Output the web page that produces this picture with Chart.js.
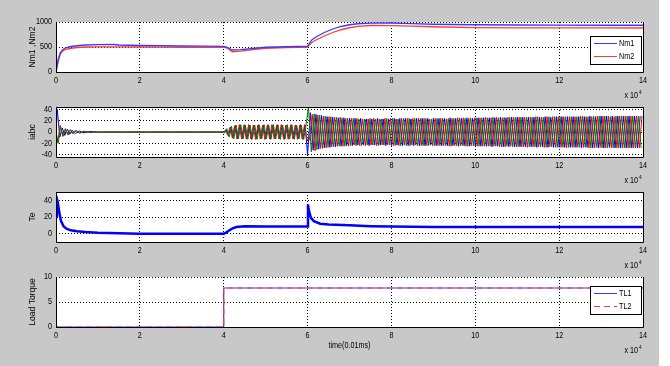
<!DOCTYPE html>
<html><head><meta charset="utf-8">
<script src="https://cdn.jsdelivr.net/npm/chart.js@4.4.1/dist/chart.umd.min.js"></script>
<style>
html,body{margin:0;padding:0;background:#fff;width:670px;height:366px;overflow:hidden;}
#fig{position:absolute;left:0;top:0;width:659px;height:366px;background:#c8c8c8;}
.pane{position:absolute;left:0;width:670px;height:90px;}
</style></head><body>
<div id="fig"></div>
<div class="pane" style="top:16px"><canvas id="c1"></canvas></div>
<div class="pane" style="top:101px"><canvas id="c2"></canvas></div>
<div class="pane" style="top:186px"><canvas id="c3"></canvas></div>
<div class="pane" style="top:271px"><canvas id="c4"></canvas></div>
<script>
// ---------- shared x axis ----------
const xTicks = [0, 2, 4, 6, 8, 10, 12, 14];

// ---------- panel 1: speeds ----------
const nmT = [0,0.05,0.1,0.15,0.2,0.3,0.4,0.5,0.7,1.0,1.4,1.5,2.0,2.5,3.0,3.5,4.0,4.1,4.2,4.4,4.7,5.0,5.5,6.0,6.02,6.1,6.2,6.4,6.6,6.8,7.0,7.2,7.5,8.0,8.5,9.0,10,11,12,13,14];
const nm1 = [0,250,380,440,470,500,515,525,540,548,550,540,530,525,520,517,512,490,440,448,470,495,505,515,545,640,700,790,860,910,945,965,978,980,968,955,945,940,938,935,935];
const nm2 = [0,200,350,410,440,465,480,490,500,502,503,502,500,497,495,495,495,470,405,418,448,475,490,500,525,590,640,720,790,845,885,912,930,928,918,905,888,883,882,881,880];
const nmTicks = [0, 500, 1000];

// ---------- panel 2: phase currents ----------
const iaT0 = [0,0.03,0.09,0.15,0.21,0.27,0.33,0.39,0.46,0.55,0.65,0.8,1.0,4.0];
const ia0  = [0,40,-9,7,-6,5,-4,3,-3,2,-1.5,1,0,0];
const ibT0 = [0,0.05,0.11,0.17,0.23,0.29,0.35,0.41,0.48,0.57,0.67,0.82,1.0,4.0];
const ib0  = [0,-20,9,-7,5,-5,4,-3,2,-2,1,-0.5,0,0];
const icT0 = [0,0.04,0.1,0.16,0.22,0.28,0.34,0.4,0.47,0.56,0.66,0.81,1.0,4.0];
const ic0  = [0,-18,12,-8,6,-5,4,-3,3,-2,1.5,-1,0,0];
// successive peaks, 4..6
const ia46 = [0,4,-7,9,-11,12,-12,12,-12,13,-12,12,-13,12,-12,13,-12,12,-12,13,-13,12,-12,13,-12,12,-13,12,-12,13,-12,12,-12,13,-13,12];
const ib46 = [-2,6,-9,10,-12,12,-12,13,-12,12,-13,12,-12,12,-13,12,-12,13,-12,12,-12,13,-12,12,-13,12,-12,13,-12,12,-13,12,-12,12,-13,12];
const ic46 = [2,-5,8,-10,11,-12,13,-12,12,-12,13,-12,12,-13,12,-12,12,-13,12,-12,13,-12,12,-12,13,-12,12,-13,12,-12,12,-13,12,-12,13,-12];
// successive peaks, 6..14
const ia614 = [-40,34,-32,31,-30,29,-28,27,-27,26, -26,25,-25,25,-24,24,-24,24,-23,24, -23,23,-24,23,-23,24,-23,23,-24,23,
  -24,24,-23,24,-24,24,-24,23,-24,24, -24,24,-24,24,-23,24,-24,24,-24,24, -24,25,-24,24,-25,24,-24,25,-25,24,
  -25,25,-25,25,-25,25,-26,25,-25,26, -26,25,-26,26,-26,26,-26,26,-26,26, -26,26,-27,26,-26,27,-27,26,-27,27,
  -27,27,-27,27,-27,27,-27,27,-28,27, -27,28,-28,27,-28,28,-28,28,-27,28, -28,28,-28,28,-28,28,-28,28,-28,28];
const ib614 = [44,-35,32,-31,30,-29,28,-27,27,-26, 26,-25,25,-25,24,-24,24,-24,23,-24, 23,-23,24,-23,23,-24,23,-23,24,-23,
  24,-24,23,-24,24,-24,24,-23,24,-24, 24,-24,24,-24,23,-24,24,-24,24,-24, 24,-25,24,-24,25,-24,24,-25,25,-24,
  25,-25,25,-25,25,-25,26,-25,25,-26, 26,-25,26,-26,26,-26,26,-26,26,-26, 26,-26,27,-26,26,-27,27,-26,27,-27,
  27,-27,27,-27,27,-27,27,-27,28,-27, 27,-28,28,-27,28,-28,28,-28,27,-28, 28,-28,28,-28,28,-28,28,-28,28,-28];
const ic614 = [-14,31,-33,30,-29,28,-28,27,-26,26, -25,26,-25,24,-25,24,-23,24,-24,23, -24,23,-23,24,-24,23,-23,24,-23,24,
  -24,23,-24,24,-23,24,-24,24,-23,24, -24,24,-24,23,-24,24,-24,24,-24,23, -25,24,-24,25,-24,25,-25,24,-24,25,
  -25,25,-25,26,-25,25,-25,26,-26,25, -26,26,-25,26,-26,26,-26,26,-27,26, -26,27,-26,26,-27,27,-26,27,-27,27,
  -27,27,-28,27,-27,27,-27,28,-27,27, -28,27,-28,28,-27,28,-28,28,-28,27, -28,28,-28,28,-28,28,-28,28,-28,28];
const iTicks = [-40, -20, 0, 20, 40];

// ---------- panel 3: electromagnetic torque ----------
const teT = [0,0.02,0.04,0.08,0.12,0.18,0.25,0.35,0.5,0.7,1,1.5,2,3,4,4.05,4.1,4.2,4.3,4.5,5,5.5,6,6.01,6.03,6.08,6.15,6.3,6.5,7,7.5,8,9,10,11,12,13,14];
const te  = [20,42,38,25,15,9,6,4,3,2,1,0.5,0,0,0,1,3,6,8,9,8.5,8.5,8.5,35,28,19,15,12,11,10,9,8.5,8,8,8,8,8,8];
const teTicks = [0, 20, 40];

// ---------- panel 4: load torque ----------
const tlT = [0, 4, 4, 14];
const tl1 = [0, 0, 7.8, 7.8];
const tl2 = [0, 0, 7.8, 7.8];
const tlTicks = [0, 5, 10];

const FONT = "'Liberation Sans',Arial,sans-serif";
const FS = 9;       // font size
const SX = 0.8;     // horizontal squeeze of the screenshot's text
Chart.defaults.font.family = FONT;
Chart.defaults.font.size = FS;
Chart.defaults.color = '#000';

const xy = (t, v) => t.map((x, i) => ({x, y: v[i]}));
function wave(t0, y0, p46, p614, shift) {
  const pts = xy(t0, y0);
  [[4, 6, p46], [6, 14, p614]].forEach(([a, b, P]) => {
    const dt = (b - a) / P.length;
    P.forEach((v, k) => pts.push({x: a + (k + shift) * dt, y: v}));
  });
  return pts;
}

function txt(ctx, s, x, y, align, sx, rot) {
  ctx.save();
  ctx.translate(x, y);
  if (rot) ctx.rotate(rot);
  ctx.scale(sx, 1);
  ctx.textAlign = align; ctx.textBaseline = 'middle';
  ctx.fillText(s, 0, 0);
  ctx.restore();
}

const matlab = {
  id: 'matlab',
  beforeDraw(chart) {
    const {ctx, chartArea: a} = chart;
    ctx.save(); ctx.fillStyle = '#fff';
    ctx.fillRect(a.left, a.top, a.right - a.left, a.bottom - a.top);
    ctx.restore();
  },
  afterDraw(chart, args, o) {
    const {ctx, chartArea: a, scales} = chart;
    ctx.save();
    ctx.strokeStyle = '#000'; ctx.lineWidth = 1;
    ctx.beginPath();
    ctx.moveTo(a.left + 0.5, a.top); ctx.lineTo(a.left + 0.5, a.bottom + 0.5);
    ctx.lineTo(a.right + 0.5, a.bottom + 0.5); ctx.lineTo(a.right + 0.5, a.top);
    if (o.topBorder) { ctx.moveTo(a.left, a.top + 0.5); ctx.lineTo(a.right + 1, a.top + 0.5); }
    ctx.stroke();
    ctx.fillStyle = '#000';
    ctx.font = FS + 'px ' + FONT;
    // tick labels
    xTicks.forEach(v => txt(ctx, String(v), scales.x.getPixelForValue(v), a.bottom + 9, 'center', SX));
    o.yTicks.forEach(v => txt(ctx, String(v), a.left - 4, scales.y.getPixelForValue(v), 'right', SX));
    // axis titles
    txt(ctx, o.yTitle, 33, (a.top + a.bottom) / 2, 'center', 0.95, -Math.PI / 2);
    if (o.xTitle) txt(ctx, o.xTitle, (a.left + a.right) / 2, a.bottom + 19, 'center', SX);
    // exponent
    txt(ctx, 'x 10', a.right - 5, a.bottom + 24, 'right', SX);
    ctx.font = '6px ' + FONT;
    txt(ctx, '4', a.right - 4, a.bottom + 20, 'left', SX);
    if (o.legend) {
      const L = o.legend, x1 = L.x, y1 = a.top + L.dy;
      ctx.fillStyle = '#fff'; ctx.fillRect(x1, y1, L.w, L.h);
      ctx.strokeStyle = '#000'; ctx.strokeRect(x1 + 0.5, y1 + 0.5, L.w, L.h);
      L.items.forEach((it, i) => {
        const y = Math.round(y1 + L.r0 + i * L.rg) + 0.5;
        ctx.strokeStyle = it.color; ctx.setLineDash(it.dash || []);
        ctx.beginPath(); ctx.moveTo(x1 + 4, y); ctx.lineTo(x1 + 27, y); ctx.stroke();
        ctx.setLineDash([]);
        ctx.fillStyle = '#000'; ctx.font = FS + 'px ' + FONT;
        txt(ctx, it.text, x1 + 29, y, 'left', SX);
      });
    }
    ctx.restore();
  }
};

function options(yMin, yMax, extra) {
  return {
    responsive: true, maintainAspectRatio: false, animation: false,
    layout: {padding: {top: 6, left: 0, right: 27, bottom: 0}},
    plugins: {legend: {display: false}, tooltip: {enabled: false}, matlab: extra},
    scales: {
      x: {
        type: 'linear', min: 0, max: 14,
        afterBuildTicks: s => { s.ticks = xTicks.map(v => ({value: v})); },
        afterFit: s => { s.height = 34; },
        ticks: {display: false},
        grid: {color: '#000', lineWidth: 1, drawTicks: false},
        border: {display: false, dash: [1, 2]}
      },
      y: {
        type: 'linear', min: yMin, max: yMax,
        afterBuildTicks: s => { s.ticks = extra.yTicks.map(v => ({value: v})); },
        afterFit: s => { s.width = 56; },
        ticks: {display: false},
        grid: {color: '#000', lineWidth: 1, drawTicks: false},
        border: {display: false, dash: [1, 2]}
      }
    }
  };
}
const line = (data, color, w, dash) => ({data, showLine: true, borderColor: color, borderWidth: w, borderDash: dash || [], pointRadius: 0, fill: false});

new Chart(document.getElementById('c1'), {
  type: 'scatter', plugins: [matlab],
  data: {datasets: [line(xy(nmT, nm1), '#3a3aff', 1.3), line(xy(nmT, nm2), '#ff3a3a', 1.3)]},
  options: options(0, 1000, {yTicks: nmTicks, yTitle: 'Nm1 ,Nm2', legend: {x: 590, dy: 14, w: 51, h: 28, r0: 7, rg: 13,
    items: [{text: 'Nm1', color: '#3a3aff'}, {text: 'Nm2', color: '#ff3a3a'}]}})
});
new Chart(document.getElementById('c2'), {
  type: 'scatter', plugins: [matlab],
  data: {datasets: [
    line(wave(ibT0, ib0, ib46, ib614, 0.33), '#008000', 1),
    line(wave(icT0, ic0, ic46, ic614, 0.67), '#ff0000', 1),
    line(wave(iaT0, ia0, ia46, ia614, 0), '#0000ff', 1)
  ]},
  options: options(-44, 44, {yTicks: iTicks, yTitle: 'iabc', topBorder: true})
});
new Chart(document.getElementById('c3'), {
  type: 'scatter', plugins: [matlab],
  data: {datasets: [line(xy(teT, te), '#0000ff', 2.5)]},
  options: options(-10, 50, {yTicks: teTicks, yTitle: 'Te', topBorder: true})
});
new Chart(document.getElementById('c4'), {
  type: 'scatter', plugins: [matlab],
  data: {datasets: [line(xy(tlT, tl2), '#ff3a3a', 1.2, [6, 4]), line(xy(tlT, tl1), '#3a3aff', 1.2)]},
  options: options(0, 10, {yTicks: tlTicks, yTitle: 'Load Torque', xTitle: 'time(0.01ms)', legend: {x: 590, dy: 9, w: 51, h: 28, r0: 7, rg: 13,
    items: [{text: 'TL1', color: '#3a3aff'}, {text: 'TL2', color: '#ff3a3a', dash: [6, 4]}]}})
});
</script>
</body></html>
